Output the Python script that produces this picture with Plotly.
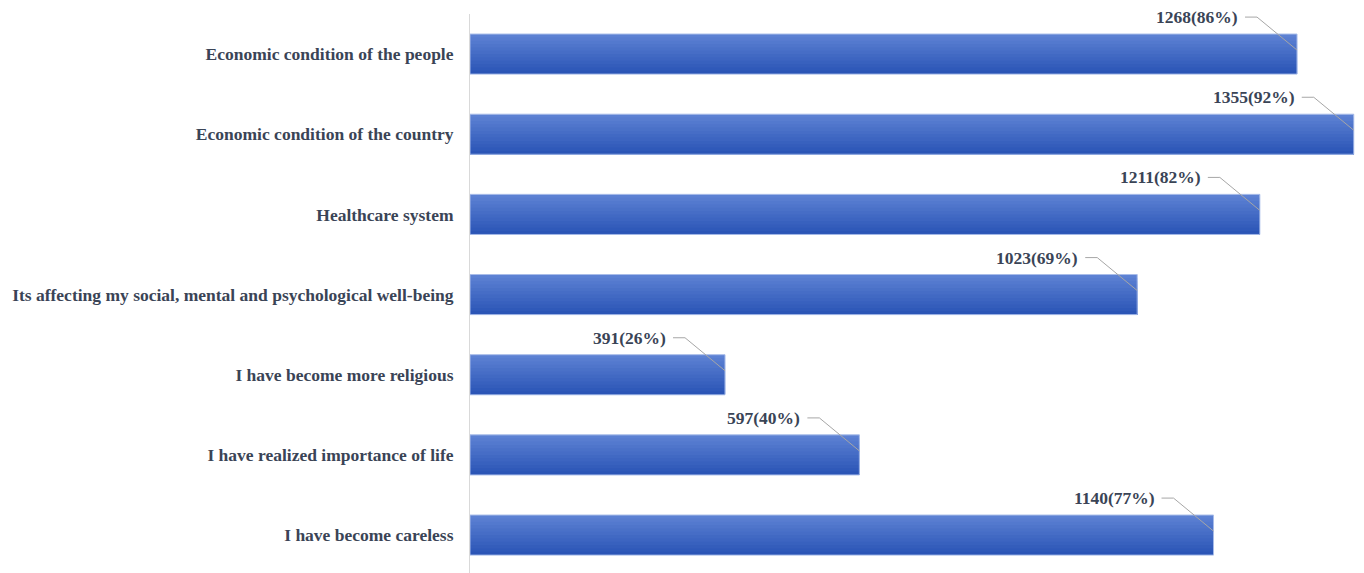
import plotly.graph_objects as go

categories = [
    "Economic condition of the people",
    "Economic condition of the country",
    "Healthcare system",
    "Its affecting my social, mental and psychological well-being",
    "I have become more religious",
    "I have realized importance of life",
    "I have become careless",
]
counts = [1268, 1355, 1211, 1023, 391, 597, 1140]
percents = [86, 92, 82, 69, 26, 40, 77]
labels = [f"{c}({p}%)" for c, p in zip(counts, percents)]

TEXT_COLOR = "#3a4456"
FONT = "Liberation Serif, Times New Roman, serif"

# vertical gradient (top light -> bottom dark) built from stacked overlay bars
top_rgb = (0x5c, 0x81, 0xd3)
bot_rgb = (0x2b, 0x55, 0xb6)
N = 12
BAR_W = 0.5

fig = go.Figure()
for k in range(N):
    t = k / (N - 1)
    rgb = tuple(round(a + (b - a) * t) for a, b in zip(top_rgb, bot_rgb))
    w = BAR_W * (N - k) / N
    fig.add_trace(go.Bar(
        y=categories, x=counts, orientation="h",
        width=w, offset=BAR_W / 2 - w,
        marker=dict(color="rgb(%d,%d,%d)" % rgb, line=dict(width=0)),
        hoverinfo="skip", showlegend=False,
    ))
# thin light border
fig.add_trace(go.Bar(
    y=categories, x=counts, orientation="h",
    width=BAR_W, offset=-BAR_W / 2,
    marker=dict(color="rgba(0,0,0,0)", line=dict(width=1, color="#a8bce9")),
    hoverinfo="skip", showlegend=False,
))

# value labels with leader lines
for i, (c, lab) in enumerate(zip(counts, labels)):
    fig.add_annotation(
        x=c, y=categories[i], xref="x", yref="y",
        text=lab, showarrow=False,
        xanchor="right", yanchor="middle",
        xshift=-58, yshift=37, borderpad=0,
        font=dict(family=FONT, size=17.5, color=TEXT_COLOR, weight="bold"),
    )
    fig.add_shape(
        type="path", xref="x", yref="y",
        xsizemode="pixel", ysizemode="pixel",
        xanchor=c, yanchor=i,
        path="M -52,37 L -40,37 L 0,4",
        line=dict(color="#a6a6a6", width=1),
    )

fig.update_layout(
    width=1356, height=565,
    margin=dict(l=462, r=0, t=6, b=0),
    barmode="overlay",
    plot_bgcolor="white", paper_bgcolor="white",
    xaxis=dict(range=[0, 1370.7], visible=False),
    yaxis=dict(
        type="category", range=[6.473, -0.5],
        showline=True, linecolor="#d9d9d9", linewidth=1,
        showgrid=False, ticks="", ticklabelstandoff=12,
        tickfont=dict(family=FONT, size=17.5, color=TEXT_COLOR, weight="bold"),
    ),
)

fig.write_html("out.html")
